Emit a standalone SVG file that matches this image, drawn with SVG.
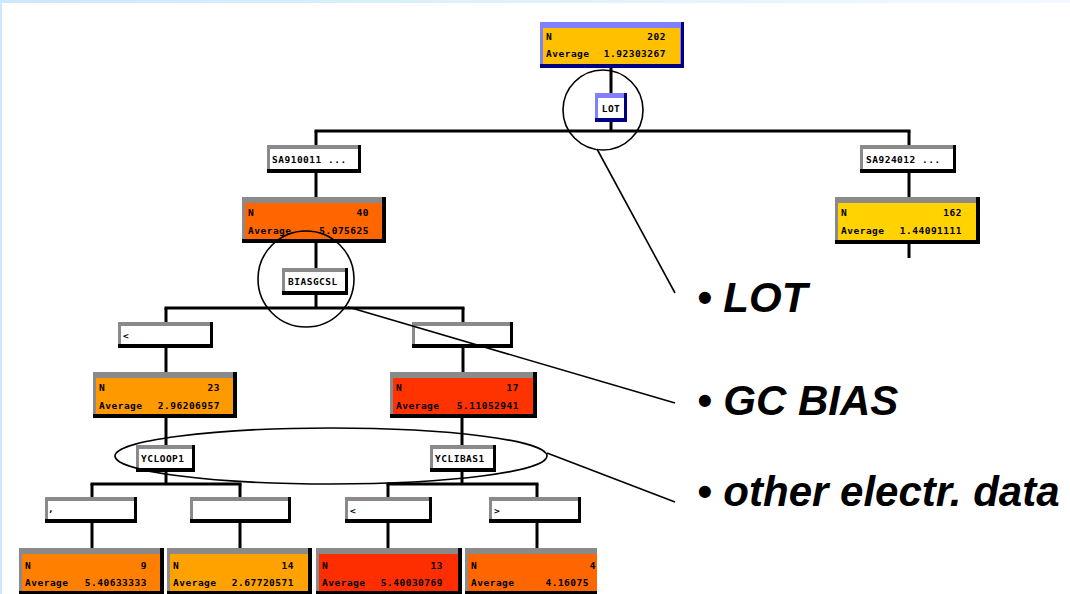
<svg xmlns="http://www.w3.org/2000/svg" width="1070" height="594" viewBox="0 0 1070 594">
<defs>
<linearGradient id="topg" x1="0" y1="0" x2="1" y2="0">
<stop offset="0" stop-color="#cde8fa"/>
<stop offset="1" stop-color="#f3f9fe"/>
</linearGradient>
<clipPath id="clipR"><rect x="0" y="0" width="597" height="594"/></clipPath>
<style>
.k{fill:#000}
.g{fill:#8a8a8a}
.nv{fill:#000080}
.lb{fill:#8080ff}
.w{fill:#fff}
.t{font-family:"DejaVu Sans Mono",monospace;font-weight:bold;font-size:9.5px;letter-spacing:0.5px;fill:#000}
.e{text-anchor:end}
.c{text-anchor:middle}
.con line{stroke:#000;stroke-width:3;fill:none}
.ann{stroke:#000;stroke-width:1.6;fill:none}
.bul{font-family:"Liberation Sans",Arial,sans-serif;font-weight:bold;font-style:italic;font-size:42px;fill:#000}
</style>
</defs>
<rect x="0" y="0" width="1070" height="594" fill="#fff"/>
<rect x="0" y="0" width="1070" height="3" fill="url(#topg)"/>
<rect x="0" y="0" width="2" height="594" fill="#cde8fa"/>

<g id="connectors" class="con">
<line x1="611" y1="66" x2="611" y2="95"/>
<line x1="611" y1="120" x2="611" y2="131"/>
<line x1="314.5" y1="131" x2="910.5" y2="131"/>
<line x1="316" y1="131" x2="316" y2="146"/>
<line x1="909" y1="131" x2="909" y2="146"/>
<line x1="316" y1="172" x2="316" y2="198"/>
<line x1="909" y1="172" x2="909" y2="198"/>
<line x1="909" y1="243" x2="909" y2="258"/>
<line x1="316" y1="242" x2="316" y2="269"/>
<line x1="316" y1="294" x2="316" y2="308"/>
<line x1="164.5" y1="308" x2="464.5" y2="308"/>
<line x1="166" y1="308" x2="166" y2="323"/>
<line x1="463" y1="308" x2="463" y2="323"/>
<line x1="166" y1="347" x2="166" y2="373"/>
<line x1="463" y1="347" x2="463" y2="373"/>
<line x1="166" y1="417" x2="166" y2="446"/>
<line x1="462" y1="417" x2="462" y2="446"/>
<line x1="166" y1="471" x2="166" y2="484"/>
<line x1="462" y1="471" x2="462" y2="484"/>
<line x1="90.5" y1="484" x2="241.5" y2="484"/>
<line x1="386.5" y1="484" x2="538.5" y2="484"/>
<line x1="92" y1="484" x2="92" y2="498"/>
<line x1="240" y1="484" x2="240" y2="498"/>
<line x1="388" y1="484" x2="388" y2="498"/>
<line x1="537" y1="484" x2="537" y2="498"/>
<line x1="92" y1="522" x2="92" y2="549"/>
<line x1="240" y1="522" x2="240" y2="549"/>
<line x1="388" y1="522" x2="388" y2="549"/>
<line x1="537" y1="522" x2="537" y2="549"/>
</g>

<g id="root">
<rect class="nv" x="540" y="22" width="144" height="46"/>
<rect class="lb" x="540" y="22" width="141" height="42"/>
<rect fill="#ffc000" x="543" y="28" width="137" height="36"/>
<text class="t" x="546" y="40">N</text>
<text class="t e" x="666" y="40">202</text>
<text class="t" x="546" y="57">Average</text>
<text class="t e" x="666" y="57">1.92303267</text>
</g>

<g id="split-lot">
<rect class="nv" x="595" y="93" width="32" height="29"/>
<rect class="lb" x="595" y="93" width="29" height="25"/>
<rect class="w" x="598" y="98" width="26" height="20"/>
<text class="t c" x="611" y="112">LOT</text>
</g>

<g id="split-sa910011">
<rect class="k" x="267" y="145" width="94" height="28"/>
<rect class="g" x="267" y="145" width="91" height="24"/>
<rect class="w" x="270" y="149" width="88" height="20"/>
<text class="t" x="272" y="163">SA910011 ...</text>
</g>

<g id="split-sa924012">
<rect class="k" x="860" y="145" width="96" height="28"/>
<rect class="g" x="860" y="145" width="93" height="24"/>
<rect class="w" x="863" y="149" width="90" height="20"/>
<text class="t" x="866" y="163">SA924012 ...</text>
</g>

<g id="node-40">
<rect class="k" x="242" y="197" width="144" height="46"/>
<rect class="g" x="242" y="197" width="140" height="42"/>
<rect fill="#ff6600" x="245" y="203" width="137" height="36"/>
<text class="t" x="248" y="216">N</text>
<text class="t e" x="369" y="216">40</text>
<text class="t" x="248" y="234">Average</text>
<text class="t e" x="369" y="234">5.075625</text>
</g>

<g id="node-162">
<rect class="k" x="835" y="197" width="145" height="47"/>
<rect class="g" x="835" y="197" width="141" height="43"/>
<rect fill="#ffd200" x="838" y="203" width="138" height="37"/>
<text class="t" x="841" y="216">N</text>
<text class="t e" x="962" y="216">162</text>
<text class="t" x="841" y="234">Average</text>
<text class="t e" x="962" y="234">1.44091111</text>
</g>

<g id="split-biasgcsl">
<rect class="k" x="282" y="268" width="66" height="27"/>
<rect class="g" x="282" y="268" width="63" height="23"/>
<rect class="w" x="285" y="272" width="60" height="19"/>
<text class="t" x="288" y="285">BIASGCSL</text>
</g>

<g id="split-lt1">
<rect class="k" x="118" y="322" width="95" height="26"/>
<rect class="g" x="118" y="322" width="92" height="22"/>
<rect class="w" x="121" y="326" width="89" height="18"/>
<text class="t" x="123" y="339">&lt;</text>
</g>

<g id="split-ge1">
<rect class="k" x="412" y="322" width="101" height="26"/>
<rect class="g" x="412" y="322" width="98" height="22"/>
<rect class="w" x="415" y="326" width="95" height="18"/>
</g>

<g id="node-23">
<rect class="k" x="93" y="372" width="144" height="46"/>
<rect class="g" x="93" y="372" width="140" height="42"/>
<rect fill="#ff9900" x="96" y="378" width="137" height="36"/>
<text class="t" x="99" y="391">N</text>
<text class="t e" x="220" y="391">23</text>
<text class="t" x="99" y="409">Average</text>
<text class="t e" x="220" y="409">2.96206957</text>
</g>

<g id="node-17">
<rect class="k" x="390" y="372" width="147" height="46"/>
<rect class="g" x="390" y="372" width="143" height="42"/>
<rect fill="#ff3300" x="393" y="378" width="140" height="36"/>
<text class="t" x="396" y="391">N</text>
<text class="t e" x="519" y="391">17</text>
<text class="t" x="396" y="409">Average</text>
<text class="t e" x="519" y="409">5.11052941</text>
</g>

<g id="split-ycloop1">
<rect class="k" x="136" y="445" width="59" height="27"/>
<rect class="g" x="136" y="445" width="56" height="23"/>
<rect class="w" x="139" y="449" width="53" height="19"/>
<text class="t" x="141" y="462">YCLOOP1</text>
</g>

<g id="split-yclibas1">
<rect class="k" x="430" y="445" width="66" height="27"/>
<rect class="g" x="430" y="445" width="63" height="23"/>
<rect class="w" x="433" y="449" width="60" height="19"/>
<text class="t" x="435" y="462">YCLIBAS1</text>
</g>

<g id="split-b1">
<rect class="k" x="45" y="497" width="92" height="26"/>
<rect class="g" x="45" y="497" width="89" height="22"/>
<rect class="w" x="48" y="501" width="86" height="18"/>
<text class="t" x="48" y="512">,</text>
</g>

<g id="split-b2">
<rect class="k" x="190" y="497" width="101" height="26"/>
<rect class="g" x="190" y="497" width="98" height="22"/>
<rect class="w" x="193" y="501" width="95" height="18"/>
</g>

<g id="split-b3">
<rect class="k" x="345" y="497" width="87" height="26"/>
<rect class="g" x="345" y="497" width="84" height="22"/>
<rect class="w" x="348" y="501" width="81" height="18"/>
<text class="t" x="350" y="514">&lt;</text>
</g>

<g id="split-b4">
<rect class="k" x="489" y="497" width="92" height="26"/>
<rect class="g" x="489" y="497" width="89" height="22"/>
<rect class="w" x="492" y="501" width="86" height="18"/>
<text class="t" x="494" y="514">&gt;</text>
</g>

<g id="node-9">
<rect class="k" x="19" y="548" width="145" height="47"/>
<rect class="g" x="19" y="548" width="141" height="43"/>
<rect fill="#ff8000" x="22" y="554" width="138" height="37"/>
<text class="t" x="25" y="569">N</text>
<text class="t e" x="147" y="569">9</text>
<text class="t" x="25" y="586">Average</text>
<text class="t e" x="147" y="586">5.40633333</text>
</g>

<g id="node-14">
<rect class="k" x="167" y="548" width="145" height="47"/>
<rect class="g" x="167" y="548" width="141" height="43"/>
<rect fill="#ffa200" x="170" y="554" width="138" height="37"/>
<text class="t" x="173" y="569">N</text>
<text class="t e" x="294" y="569">14</text>
<text class="t" x="173" y="586">Average</text>
<text class="t e" x="294" y="586">2.67720571</text>
</g>

<g id="node-13">
<rect class="k" x="316" y="548" width="146" height="47"/>
<rect class="g" x="316" y="548" width="142" height="43"/>
<rect fill="#ff2e00" x="319" y="554" width="139" height="37"/>
<text class="t" x="322" y="569">N</text>
<text class="t e" x="443" y="569">13</text>
<text class="t" x="322" y="586">Average</text>
<text class="t e" x="443" y="586">5.40030769</text>
</g>

<g id="node-4" clip-path="url(#clipR)">
<rect class="k" x="465" y="548" width="147" height="47"/>
<rect class="g" x="465" y="548" width="143" height="43"/>
<rect fill="#ff6600" x="468" y="554" width="140" height="37"/>
<text class="t" x="471" y="569">N</text>
<text class="t e" x="596" y="569">4</text>
<text class="t" x="471" y="586">Average</text>
<text class="t e" x="589" y="586">4.16075</text>
</g>

<g id="annotations">
<circle class="ann" cx="603" cy="110" r="40"/>
<circle class="ann" cx="306" cy="279" r="48"/>
<ellipse class="ann" cx="331" cy="456" rx="216" ry="28"/>
<line class="ann" x1="597" y1="149" x2="675" y2="293"/>
<line class="ann" x1="348" y1="307" x2="675" y2="403"/>
<line class="ann" x1="547" y1="453" x2="675" y2="502"/>
</g>

<g id="labels">
<text class="bul" x="697" y="312">• LOT</text>
<text class="bul" x="697" y="415">• GC BIAS</text>
<text class="bul" x="697" y="506">• other electr. data</text>
</g>
</svg>
